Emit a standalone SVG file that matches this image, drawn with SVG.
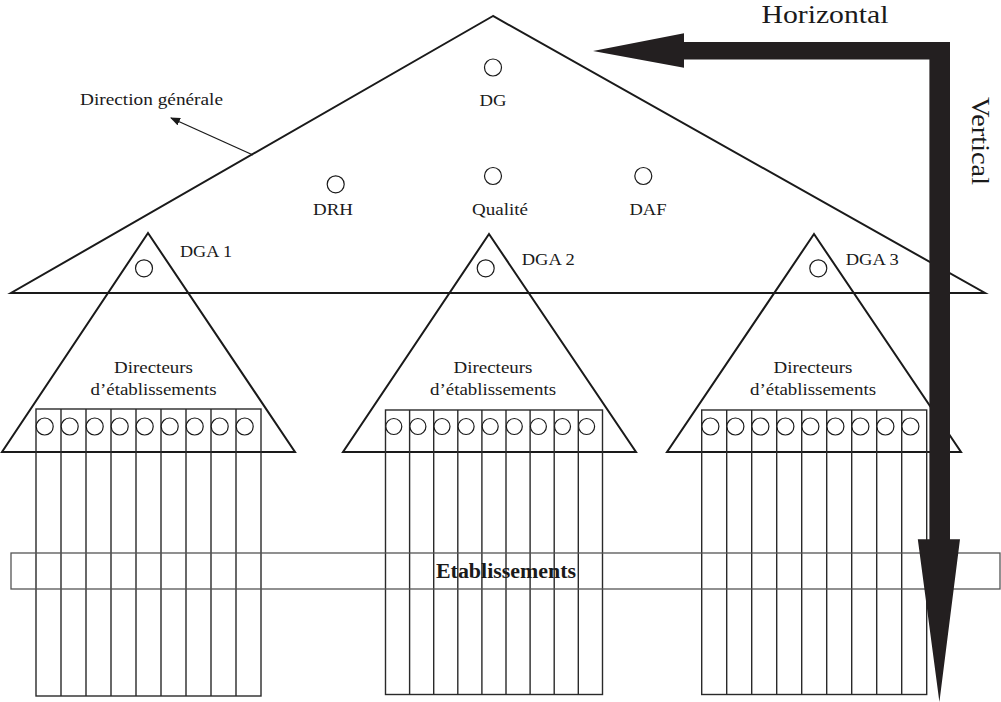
<svg xmlns="http://www.w3.org/2000/svg" width="1001" height="702" viewBox="0 0 1001 702">
<style>
text{font-family:"Liberation Serif","Times New Roman",serif;fill:#1a1a1a}
.lbl{font-size:17px}
.big{font-size:26px}
.tri{fill:none;stroke:#1a1a1a;stroke-width:2;stroke-linejoin:miter}
.col{fill:none;stroke:#2a2a2a;stroke-width:1.4}
.dot{fill:#fff;stroke:#1a1a1a;stroke-width:1.2}
.mid{text-anchor:middle}
</style>
<defs>
<marker id="ah" markerWidth="10" markerHeight="8" refX="9" refY="4" orient="auto" markerUnits="userSpaceOnUse">
<path d="M0,0 L10,4 L0,8 Z" fill="#1a1a1a"/>
</marker>
</defs>

<g id="direction-generale">
<polygon class="tri" points="493,16 11,293 985,293"/>
<circle class="dot" cx="493" cy="67.5" r="8.5"/>
<text class="lbl mid" x="493" y="106" textLength="27" lengthAdjust="spacingAndGlyphs">DG</text>
<circle class="dot" cx="335.7" cy="184.3" r="8.5"/>
<text class="lbl mid" x="333" y="215" textLength="40" lengthAdjust="spacingAndGlyphs">DRH</text>
<circle class="dot" cx="493" cy="176" r="8.5"/>
<text class="lbl mid" x="500" y="215" textLength="56" lengthAdjust="spacingAndGlyphs">Qualité</text>
<circle class="dot" cx="643.3" cy="176" r="8.5"/>
<text class="lbl mid" x="648" y="215" textLength="37" lengthAdjust="spacingAndGlyphs">DAF</text>
<text class="lbl" x="80" y="105" textLength="143" lengthAdjust="spacingAndGlyphs">Direction générale</text>
</g>

<g id="dga1">
<polygon class="tri" points="148,233 2,452 295,452"/>
<circle class="dot" cx="144" cy="268.3" r="8.5"/>
<text class="lbl" x="180" y="257" textLength="52" lengthAdjust="spacingAndGlyphs">DGA 1</text>
<text class="lbl mid" x="153.5" y="373" textLength="79" lengthAdjust="spacingAndGlyphs">Directeurs</text>
<text class="lbl mid" x="153.5" y="395" textLength="126" lengthAdjust="spacingAndGlyphs">d’établissements</text>
</g>

<g id="dga2">
<polygon class="tri" points="489,234 343,452 636,452"/>
<circle class="dot" cx="485.7" cy="268.3" r="8.5"/>
<text class="lbl" x="521.7" y="265" textLength="53" lengthAdjust="spacingAndGlyphs">DGA 2</text>
<text class="lbl mid" x="493" y="373" textLength="79" lengthAdjust="spacingAndGlyphs">Directeurs</text>
<text class="lbl mid" x="493" y="395" textLength="126" lengthAdjust="spacingAndGlyphs">d’établissements</text>
</g>

<g id="dga3">
<polygon class="tri" points="814,234 667,452 961,452"/>
<circle class="dot" cx="818.3" cy="268.3" r="8.5"/>
<text class="lbl" x="845.7" y="265" textLength="53" lengthAdjust="spacingAndGlyphs">DGA 3</text>
<text class="lbl mid" x="813" y="373" textLength="79" lengthAdjust="spacingAndGlyphs">Directeurs</text>
<text class="lbl mid" x="813" y="395" textLength="126" lengthAdjust="spacingAndGlyphs">d’établissements</text>
</g>

<g id="etablissements-1">
<rect class="col" x="36" y="409" width="225" height="287"/>
<path class="col" d="M61,409V696M86,409V696M111,409V696M136,409V696M161,409V696M186,409V696M211,409V696M236,409V696"/>
<circle class="dot" cx="44.7" cy="426.5" r="8.5"/><circle class="dot" cx="69.7" cy="426.5" r="8.5"/><circle class="dot" cx="94.7" cy="426.5" r="8.5"/><circle class="dot" cx="119.7" cy="426.5" r="8.5"/><circle class="dot" cx="144.7" cy="426.5" r="8.5"/><circle class="dot" cx="169.7" cy="426.5" r="8.5"/><circle class="dot" cx="194.7" cy="426.5" r="8.5"/><circle class="dot" cx="219.7" cy="426.5" r="8.5"/><circle class="dot" cx="244.7" cy="426.5" r="8.5"/>
</g>

<g id="etablissements-2">
<rect class="col" x="385.5" y="410" width="217" height="284.5"/>
<path class="col" d="M409.6,410V694.5M433.7,410V694.5M457.8,410V694.5M481.9,410V694.5M506,410V694.5M530.1,410V694.5M554.2,410V694.5M578.3,410V694.5"/>
<circle class="dot" cx="393.8" cy="426.5" r="8"/><circle class="dot" cx="417.9" cy="426.5" r="8"/><circle class="dot" cx="442" cy="426.5" r="8"/><circle class="dot" cx="466.1" cy="426.5" r="8"/><circle class="dot" cx="490.2" cy="426.5" r="8"/><circle class="dot" cx="514.3" cy="426.5" r="8"/><circle class="dot" cx="538.4" cy="426.5" r="8"/><circle class="dot" cx="562.5" cy="426.5" r="8"/><circle class="dot" cx="586.6" cy="426.5" r="8"/>
</g>

<g id="etablissements-3">
<rect class="col" x="701.7" y="410" width="225" height="284.5"/>
<path class="col" d="M726.7,410V694.5M751.7,410V694.5M776.7,410V694.5M801.7,410V694.5M826.7,410V694.5M851.7,410V694.5M876.7,410V694.5M901.7,410V694.5"/>
<circle class="dot" cx="710.4" cy="426.5" r="8.5"/><circle class="dot" cx="735.4" cy="426.5" r="8.5"/><circle class="dot" cx="760.4" cy="426.5" r="8.5"/><circle class="dot" cx="785.4" cy="426.5" r="8.5"/><circle class="dot" cx="810.4" cy="426.5" r="8.5"/><circle class="dot" cx="835.4" cy="426.5" r="8.5"/><circle class="dot" cx="860.4" cy="426.5" r="8.5"/><circle class="dot" cx="885.4" cy="426.5" r="8.5"/><circle class="dot" cx="910.4" cy="426.5" r="8.5"/>
</g>

<g id="etablissements-bar">
<rect x="11" y="553" width="989" height="36" fill="none" stroke="#555" stroke-width="1.3"/>
<text class="mid" x="506" y="578" font-size="20" font-weight="bold" textLength="140" lengthAdjust="spacingAndGlyphs">Etablissements</text>
</g>

<g id="connectors">
<line x1="253" y1="155" x2="171" y2="118" stroke="#1a1a1a" stroke-width="1.3" marker-end="url(#ah)"/>
<polygon fill="#231f20" points="593,51 684,33.3 684,42 950,42 950,539.3 960,539.3 939.4,702 917.8,539.3 929.4,539.3 929.4,59.4 684,59.4 684,67.7"/>
</g>

<g id="axes-labels">
<text class="big mid" x="825" y="23" textLength="127" lengthAdjust="spacingAndGlyphs">Horizontal</text>
<text class="big mid" transform="translate(972,141) rotate(90)" x="0" y="0" textLength="88" lengthAdjust="spacingAndGlyphs">Vertical</text>
</g>
</svg>
